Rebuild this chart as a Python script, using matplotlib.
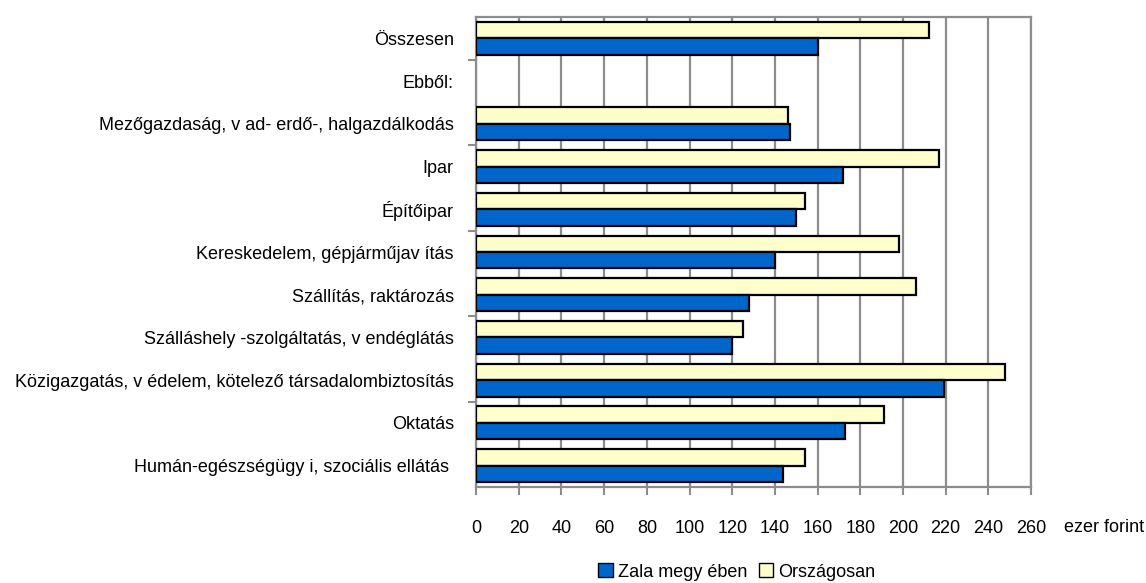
import matplotlib
matplotlib.use("Agg")
import matplotlib.pyplot as plt
import numpy as np
from matplotlib.patches import Patch

plt.rcParams['font.family'] = ['Liberation Sans', 'DejaVu Sans']

categories = [
    "Összesen",
    "Ebből:",
    "Mezőgazdaság, v ad- erdő-, halgazdálkodás",
    "Ipar",
    "Építőipar",
    "Kereskedelem, gépjárműjav ítás",
    "Szállítás, raktározás",
    "Szálláshely -szolgáltatás, v endéglátás",
    "Közigazgatás, v édelem, kötelező társadalombiztosítás",
    "Oktatás",
    "Humán-egészségügy i, szociális ellátás ",
]
zala = [160, np.nan, 147, 172, 150, 140, 128, 120, 219, 173, 144]
orszagos = [212, np.nan, 146, 217, 154, 198, 206, 125, 248, 191, 154]
xticks = list(range(0, 261, 20))

BLUE = "#0066CC"
YELLOW = "#FFFFCC"
GRID = "#8C8C8C"
FS = 13

fig = plt.figure(figsize=(11.46, 5.83), dpi=100)
ax = fig.add_axes([0.4154, 0.1647, 0.4843, 0.8061])

y = np.arange(len(categories))
h = 0.385
ax.barh(y - h / 2, orszagos, height=h, color=YELLOW, edgecolor="black", linewidth=1.6, zorder=3)
ax.barh(y + h / 2, zala, height=h, color=BLUE, edgecolor="black", linewidth=1.6, zorder=3)

ax.set_xlim(0, 260)
ax.set_ylim(len(categories) - 0.5, -0.5)
ax.set_xticks(xticks)
ax.set_xticklabels([str(v) for v in xticks], fontsize=FS)
ax.set_yticks(y)
ax.set_yticklabels(categories, fontsize=FS)
ax.set_yticks([0.5, 2.5, 4.5, 6.5, 8.5], minor=True)
ax.tick_params(axis='y', which='major', length=0, pad=16)
ax.tick_params(axis='y', which='minor', length=6, width=1.5, color=GRID)
ax.tick_params(axis='x', which='major', length=6, width=1.5, color=GRID, pad=18)

ax.grid(axis='x', color=GRID, linewidth=1.6, zorder=0)
ax.set_axisbelow(True)
for s in ax.spines.values():
    s.set_color(GRID)
    s.set_linewidth(1.6)

fig.text(1144 / 1146, 1 - 527 / 583, "ezer forint", fontsize=FS, ha="right", va="center")

handles = [Patch(facecolor=BLUE, edgecolor="black", label="Zala megy ében"),
           Patch(facecolor=YELLOW, edgecolor="black", label="Országosan")]
fig.legend(handles=handles, loc="center", bbox_to_anchor=(737 / 1146, 1 - 572 / 583), ncol=2,
           frameon=False, fontsize=FS, handlelength=0.8, handleheight=0.8,
           handletextpad=0.3, columnspacing=0.6, borderpad=0.1)

fig.savefig("out.png", dpi=100)
